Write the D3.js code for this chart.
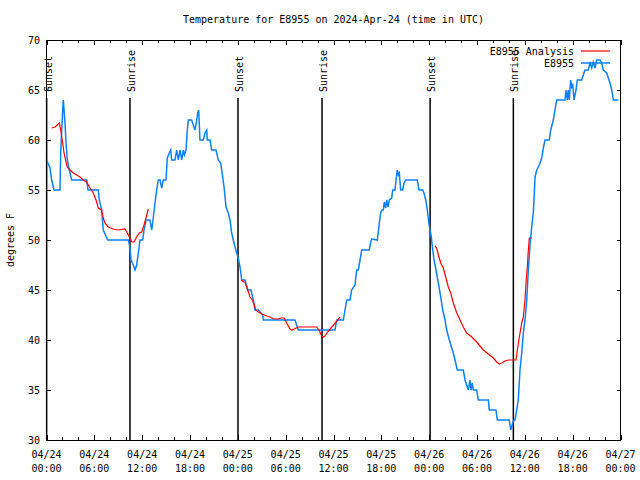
<!DOCTYPE html>
<html><head><meta charset="utf-8">
<script src="https://cdn.jsdelivr.net/npm/d3@7"></script>
<style>
body{margin:0;background:#fff;}
text{font-family:"DejaVu Sans Mono","Liberation Mono",monospace;font-size:10px;fill:#000;}
</style></head>
<body><svg id="c" width="640" height="480"></svg>
<script>
// Time in hours since 2024-04-24 00:00 UTC
const stationHours = [0.0,0.44,0.65,0.94,1.69,1.78,2.03,2.11,2.20,2.32,2.45,2.61,2.86,3.16,5.04,5.21,6.50,6.62,6.92,7.12,7.68,10.26,10.47,10.60,10.89,11.10,11.31,11.52,11.73,12.07,12.23,12.48,12.98,13.20,13.36,13.61,13.82,14.02,14.24,14.45,14.65,14.99,15.15,15.40,15.58,15.70,16.12,16.33,16.53,16.75,16.96,17.16,17.29,17.50,17.66,17.79,18.21,18.41,18.63,18.84,18.97,19.09,19.17,19.25,19.67,19.88,20.10,20.17,20.51,20.72,21.26,21.55,21.85,22.10,22.27,22.52,22.80,23.02,23.23,23.43,23.65,23.86,24.06,24.27,24.49,24.90,25.24,25.65,25.94,26.15,26.57,27.12,27.20,31.17,31.38,31.59,36.19,36.40,37.23,37.44,37.66,38.07,38.28,38.70,38.91,39.11,39.33,39.54,40.49,40.67,40.79,41.50,41.75,41.92,42.05,42.25,42.37,42.55,42.67,42.84,43.00,43.30,43.43,43.72,43.84,44.00,44.13,44.25,44.43,44.68,44.85,45.06,46.51,46.73,47.19,47.35,47.57,47.77,47.94,48.11,48.27,48.40,48.61,48.86,49.15,49.45,49.70,49.99,50.20,50.53,50.83,51.03,51.24,51.53,52.28,52.50,52.91,53.12,53.25,53.41,53.54,53.96,54.16,55.42,55.54,56.38,56.55,58.05,58.23,58.48,58.64,58.77,58.98,59.18,59.39,59.61,59.81,60.02,60.24,60.44,60.65,60.86,61.06,61.19,61.28,61.49,61.82,62.12,62.32,62.53,63.07,63.25,63.57,63.78,64.00,65.04,65.16,65.33,65.45,65.58,65.75,65.88,66.01,66.17,66.42,66.58,67.13,67.33,67.55,67.97,68.18,68.39,68.59,68.80,69.01,69.43,69.64,69.84,70.27,70.47,70.68,70.90,71.10,71.73];
const stationTemps = [58,57.2,56,55,55,58.7,63,64,63,61.7,59.7,58,57,56,56,55,55,54,53,51,50,50,49.3,48,47.5,47,47.5,48.7,50,50,51,52,52,51,52,53.7,55,56,56,55.2,56,56,58.2,58.7,59,58,58,59,58,59,58,59,58.5,59,61,62,62,61.5,61,62,62.7,63,61.5,60,60,60.7,61,60,60,59,59,58,57.7,56.3,55.3,53.3,52.7,52,50.7,50,49.3,48.7,48.2,47.3,46,46,45,45,44,43,43,42.5,42,42,41.5,41,41,42,42,43,44,44,45,45.5,47,47,48,49,49,49.8,50.1,50,51.7,52.7,53,53,53.8,53.2,54,53.3,54,54.2,55,55,56,57,56.5,56.7,55,55,55.7,56,56,55,55,54.7,54,53,51.8,51,50.3,49.3,48,47,45.7,44.3,43,42,41,40,39.2,38.7,38,37,37,36,35,36,35,35.7,35,35,34,34,33,33,32,32,31,31.7,32,32,33,34,37,38.7,40.7,42,44,47,49.5,51.3,52.7,54.7,56.3,57,57.5,58.2,59.2,60,60,61,62,63,64,64,65,64,65,64,66,65.3,65.5,64,65,66,66,66.5,67,67,67.8,67.2,67.8,67.2,68,68,67.7,67,66.7,66.2,65.7,65,64,64];

// Analysis series, three separate runs
const analysisHours1 = [0.65,1.07,1.48,1.61,1.78,1.91,2.03,2.20,2.45,2.61,2.95,3.36,3.79,4.20,4.62,5.04,5.46,5.87,6.21,6.50,6.92,7.12,7.34,7.75,8.38,9.01,9.85,10.14,10.47,10.69,10.98,11.31,11.64,11.94,12.23,12.48,12.77];
const analysisTemps1 = [61.2,61.3,61.6,61.7,61,60.3,59.7,58.7,57.8,57.3,57,56.7,56.5,56.3,56,55.8,55.2,54.7,54,53.2,53,52.2,51.7,51.3,51.1,51,51.1,50.7,50.2,49.8,49.8,50.3,50.7,50.8,51.5,52.2,53.1];
const analysisHours2 = [24.49,24.69,24.90,25.24,25.53,25.82,26.07,26.24,26.57,27.00,27.62,28.04,28.57,29.00,29.42,29.83,30.13,30.54,30.76,31.05,31.59,32.64,33.27,33.89,34.18,34.52,34.72,34.93,35.27,35.69,36.10,36.53,36.82];
const analysisTemps2 = [46,45.8,45.8,45,44.3,44,43.5,43,42.8,42.6,42.4,42.3,42.1,42.1,42.2,42.2,41.7,41.1,41,41.1,41.3,41.3,41.3,41.3,41,40.4,40.3,40.4,40.8,41.2,41.6,42,42.3];
const analysisHours3 = [48.73,48.95,49.15,49.45,49.77,50.11,50.40,50.70,51.03,51.46,51.87,52.28,52.71,53.34,53.96,54.38,54.79,55.42,56.05,56.47,56.80,57.10,57.51,57.93,58.35,58.89,59.06,59.31,59.61,59.81,60.02,60.15,60.31,60.44,60.56,60.86];
const analysisTemps3 = [49.4,49.2,48.5,47.7,47.2,46.2,45.3,44.7,43.7,42.7,42,41.3,40.7,40.3,39.8,39.4,39,38.6,38.2,37.8,37.6,37.7,37.9,38,38,38,39,40.3,41.7,42.3,44,45.7,47.3,49,50.2,50.2];

const sunEventHours = [0.02,10.47,24.02,34.56,48.12,58.56];
const sunEventLabels = ["Sunset","Sunrise","Sunset","Sunrise","Sunset","Sunrise"];

const xTickHours = [0,6,12,18,24,30,36,42,48,54,60,66,72];
const xTickDates = ["04/24","04/24","04/24","04/24","04/25","04/25","04/25","04/25","04/26","04/26","04/26","04/26","04/27"];
const xTickTimes = ["00:00","06:00","12:00","18:00","00:00","06:00","12:00","18:00","00:00","06:00","12:00","18:00","00:00"];
const yTicks = [30,35,40,45,50,55,60,65,70];

const titleText = "Temperature for E8955 on 2024-Apr-24 (time in UTC)";
const yLabel = "degrees F";
const legendNames = ["E8955 Analysis","E8955"];

const L=46.5, R=620.5, T=40, B=440;
const svg = d3.select("#c");
const x = d3.scaleLinear().domain([0,72]).range([L,R]);
const y = d3.scaleLinear().domain([30,70]).range([B,T]);

const blue = "#0a80ff", red = "#ff0000";

// title
svg.append("text").attr("x",(L+R)/2).attr("y",23).attr("text-anchor","middle").text(titleText);
// y label
svg.append("text").attr("transform","translate(14,240) rotate(-90)").attr("text-anchor","middle").text(yLabel);

// axes
const g = svg.append("g").attr("shape-rendering","crispEdges");
const minorHours = d3.range(0,73,2).filter(h=>h%6!==0);
g.append("g").attr("transform",`translate(0,${B})`)
  .call(d3.axisBottom(x).tickValues(xTickHours).tickSize(-5).tickFormat(""))
  .call(a=>a.select(".domain").remove());
g.append("g").attr("transform",`translate(0,${B})`)
  .call(d3.axisBottom(x).tickValues(minorHours).tickSize(-3).tickFormat(""))
  .call(a=>a.select(".domain").remove());
g.append("g").attr("transform",`translate(0,${T})`)
  .call(d3.axisTop(x).tickValues(xTickHours).tickSize(-5).tickFormat(""))
  .call(a=>a.select(".domain").remove());
g.append("g").attr("transform",`translate(0,${T})`)
  .call(d3.axisTop(x).tickValues(minorHours).tickSize(-3).tickFormat(""))
  .call(a=>a.select(".domain").remove());
g.append("g").attr("transform",`translate(${L},0)`)
  .call(d3.axisLeft(y).tickValues(yTicks).tickSize(-4).tickFormat(""))
  .call(a=>a.select(".domain").remove());
g.append("g").attr("transform",`translate(${R},0)`)
  .call(d3.axisRight(y).tickValues(yTicks).tickSize(-4).tickFormat(""))
  .call(a=>a.select(".domain").remove());
svg.selectAll(".tick line").attr("stroke","#000");

// tick labels
yTicks.forEach(v=>{
  svg.append("text").attr("x",40).attr("y",y(v)+3.5).attr("text-anchor","end").text(v);
});
xTickHours.forEach((h,i)=>{
  const t = svg.append("text").attr("text-anchor","middle");
  t.append("tspan").attr("x",x(h)).attr("y",458).text(xTickDates[i]);
  t.append("tspan").attr("x",x(h)).attr("y",472).text(xTickTimes[i]);
});

// clip
svg.append("clipPath").attr("id","clip").append("rect").attr("x",L).attr("y",T).attr("width",R-L).attr("height",B-T);

// sun events
sunEventHours.forEach((h,i)=>{
  svg.append("line").attr("x1",x(h)).attr("x2",x(h)).attr("y1",98).attr("y2",B)
    .attr("stroke","#000").attr("stroke-width",1.5);
  svg.append("text").attr("transform",`translate(${x(h)+5},92) rotate(-90)`).text(sunEventLabels[i]);
});

const line = d3.line().x(d=>x(d[0])).y(d=>y(d[1]));
const stationData = stationHours.map((h,i)=>[h,stationTemps[i]]);
const anal = [[analysisHours1,analysisTemps1],[analysisHours2,analysisTemps2],[analysisHours3,analysisTemps3]];

const plot = svg.append("g").attr("clip-path","url(#clip)");
plot.append("path").attr("d",line(stationData)).attr("fill","none").attr("stroke",blue).attr("stroke-width",1.5);
anal.forEach(([hs,ts])=>{
  plot.append("path").attr("d",line(hs.map((h,i)=>[h,ts[i]]))).attr("fill","none").attr("stroke",red).attr("stroke-width",1.2);
});

// border
svg.append("rect").attr("x",L).attr("y",T).attr("width",R-L).attr("height",B-T)
  .attr("fill","none").attr("stroke","#000").attr("stroke-width",1).attr("shape-rendering","crispEdges");

// legend
const legColors=[red,blue];
legendNames.forEach((n,i)=>{
  const ly = 51 + i*12;
  svg.append("text").attr("x",574).attr("y",ly+3.5).attr("text-anchor","end").text(n);
  svg.append("line").attr("x1",581).attr("x2",610).attr("y1",ly).attr("y2",ly)
    .attr("stroke",legColors[i]).attr("stroke-width",i===1?1.5:1.2);
});
</script></body></html>
